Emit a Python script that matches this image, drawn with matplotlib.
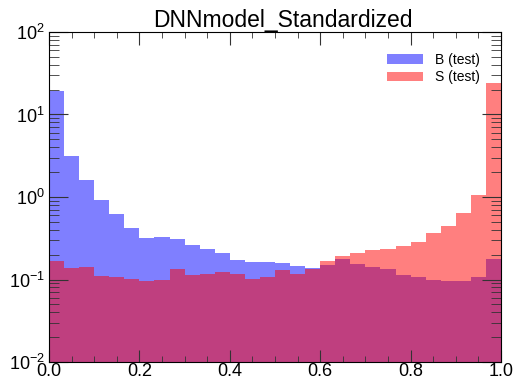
import matplotlib
matplotlib.use("Agg")
import matplotlib.pyplot as plt
import numpy as np
from matplotlib.ticker import LogLocator, MultipleLocator, NullFormatter

# 30 bins between 0 and 1, density-normalised heights
bin_edges = np.linspace(0.0, 1.0, 31)
b_test = [19.3, 3.13, 1.59, 0.93, 0.62, 0.42, 0.32, 0.328, 0.308, 0.262,
          0.237, 0.21, 0.171, 0.162, 0.162, 0.158, 0.146, 0.137, 0.150, 0.175,
          0.153, 0.142, 0.133, 0.113, 0.108, 0.099, 0.096, 0.095, 0.107, 0.176]
s_test = [0.167, 0.137, 0.140, 0.111, 0.106, 0.101, 0.0955, 0.099, 0.135, 0.114,
          0.117, 0.124, 0.117, 0.101, 0.106, 0.131, 0.116, 0.135, 0.167, 0.191,
          0.207, 0.231, 0.235, 0.253, 0.286, 0.371, 0.45, 0.645, 1.05, 24.2]

matplotlib.rc("font", family=["Liberation Sans", "DejaVu Sans"], size=13)

fig = plt.figure(figsize=(5.21, 3.83), dpi=100)
ax = fig.add_axes([49 / 521, 1 - 362 / 383, 452 / 521, 330 / 383])

centers = 0.5 * (bin_edges[:-1] + bin_edges[1:])
ax.hist(centers, bins=bin_edges, weights=b_test, color="blue", alpha=0.5,
        label="B (test)")
ax.hist(centers, bins=bin_edges, weights=s_test, color="red", alpha=0.5,
        label="S (test)")

ax.set_yscale("log")
ax.set_xlim(0, 1)
ax.set_ylim(1e-2, 1e2)
ax.xaxis.set_major_locator(MultipleLocator(0.2))
ax.xaxis.set_minor_locator(MultipleLocator(0.05))
ax.yaxis.set_major_locator(LogLocator(base=10, numticks=10))
ax.yaxis.set_minor_locator(LogLocator(base=10, subs=np.arange(2, 10), numticks=20))
ax.yaxis.set_minor_formatter(NullFormatter())

ax.tick_params(axis="both", which="both", direction="in", top=True, right=True,
               color="#333333")
ax.tick_params(axis="x", which="major", length=9, pad=1)
ax.tick_params(axis="x", which="minor", length=4)
ax.tick_params(axis="y", which="major", length=14, pad=3)
ax.tick_params(axis="y", which="minor", length=7)

ax.set_title("DNNmodel_Standardized", fontsize=16.5, pad=3, x=0.518)
ax.legend(loc="upper right", frameon=False, fontsize=10,
          bbox_to_anchor=(0.98, 0.975), handlelength=2.6, handleheight=0.7,
          labelspacing=0.25, handletextpad=0.8)

plt.savefig("out.png", dpi=100)
